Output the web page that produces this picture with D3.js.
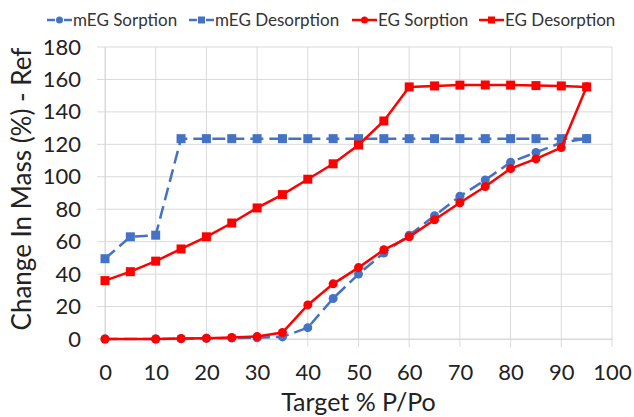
<!DOCTYPE html>
<html>
<head>
<meta charset="utf-8">
<script src="https://cdn.jsdelivr.net/npm/d3@7"></script>
<style>
  body { margin: 0; background: #fff; }
  text { font-family: Lato, "Open Sans", sans-serif; fill: #222; }
</style>
</head>
<body>
<svg id="chart" width="634" height="417"></svg>
<script>
// data
let pressure = [0, 5, 10, 15, 20, 25, 30, 35, 40, 45, 50, 55, 60, 65, 70, 75, 80, 85, 90, 95];
let megSorptionX = [0, 10, 15, 20, 25, 30, 35, 40, 45, 50, 55, 60, 65, 70, 75, 80, 85, 90, 95];
let megSorption = [0, 0, 0.2, 0.4, 0.6, 0.8, 1.3, 7, 25, 40, 53, 64, 76, 88, 98, 109, 115, 121, 123.5];
let megDesorption = [49.5, 63, 64, 123.5, 123.5, 123.5, 123.5, 123.5, 123.5, 123.5, 123.5, 123.5, 123.5, 123.5, 123.5, 123.5, 123.5, 123.5, 123.5, 123.5];
let egSorptionX = [0, 10, 15, 20, 25, 30, 35, 40, 45, 50, 55, 60, 65, 70, 75, 80, 85, 90, 95];
let egSorption = [0, 0, 0.3, 0.5, 1, 1.5, 4, 21, 34, 44, 55, 63, 73.5, 84, 94, 105, 111, 118, 155.5];
let egDesorption = [36, 41.5, 48, 55.5, 63, 71.5, 80.8, 89, 98.5, 108, 119.6, 134.4, 155.4, 156, 156.5, 156.6, 156.5, 156.2, 156, 155.4];
let xTicks = [0, 10, 20, 30, 40, 50, 60, 70, 80, 90, 100];
let yTicks = [0, 20, 40, 60, 80, 100, 120, 140, 160, 180];

let series = [
  {name: "mEG Sorption", xs: megSorptionX, ys: megSorption, color: "#4472C4", dash: "13,6", marker: "circle"},
  {name: "mEG Desorption", xs: pressure, ys: megDesorption, color: "#4472C4", dash: "13,6", marker: "square"},
  {name: "EG Sorption", xs: egSorptionX, ys: egSorption, color: "#FF0000", dash: null, marker: "circle"},
  {name: "EG Desorption", xs: pressure, ys: egDesorption, color: "#FF0000", dash: null, marker: "square"}
];

let svg = d3.select("#chart"),
    margin = {top: 47, right: 22, bottom: 78, left: 105},
    width = svg.attr("width") - margin.left - margin.right,
    height = svg.attr("height") - margin.top - margin.bottom,
    g = svg.append("g").attr("transform", "translate(" + margin.left + "," + margin.top + ")");

let x = d3.scaleLinear().domain([0, 100]).range([0, width]),
    y = d3.scaleLinear().domain([0, 180]).range([height, 0]);

// gridlines (they poke out a little past the plot, like the original)
g.append("g").selectAll("line").data(yTicks).enter().append("line")
    .attr("x1", -8).attr("x2", width)
    .attr("y1", d => y(d)).attr("y2", d => y(d))
    .style("stroke", "#d9d9d9").style("stroke-width", 1);
g.append("g").selectAll("line").data(xTicks).enter().append("line")
    .attr("x1", d => x(d)).attr("x2", d => x(d))
    .attr("y1", 0).attr("y2", height + 8)
    .style("stroke", "#d9d9d9").style("stroke-width", 1);

// axes
let xAxis = g.append("g")
    .attr("transform", "translate(0," + height + ")")
    .call(d3.axisBottom(x).tickValues(xTicks).tickSize(0).tickPadding(25));
let yAxis = g.append("g")
    .call(d3.axisLeft(y).tickValues(yTicks).tickSize(0).tickPadding(24));
[xAxis, yAxis].forEach(a => {
  a.select(".domain").style("stroke", "#d9d9d9");
  a.selectAll("text").style("font-size", "22px").style("font-family", "Lato, 'Open Sans', sans-serif").style("fill", "#222");
});

// lines and markers
let line = d3.line().x(d => x(d[0])).y(d => y(d[1]));
series.forEach(s => {
  let pts = s.xs.map((v, i) => [v, s.ys[i]]);
  g.append("path")
      .datum(pts)
      .attr("d", line)
      .style("fill", "none")
      .style("stroke", s.color)
      .style("stroke-width", 2.5)
      .style("stroke-dasharray", s.dash);
  if (s.marker === "circle") {
    g.append("g").selectAll("circle").data(pts).enter().append("circle")
        .attr("cx", d => x(d[0])).attr("cy", d => y(d[1])).attr("r", 4.5)
        .style("fill", s.color);
  } else {
    g.append("g").selectAll("rect").data(pts).enter().append("rect")
        .attr("x", d => x(d[0]) - 4.5).attr("y", d => y(d[1]) - 4.5)
        .attr("width", 9).attr("height", 9)
        .style("fill", s.color);
  }
});

// axis titles
svg.append("text")
    .attr("x", margin.left + width / 2)
    .attr("y", 411)
    .attr("text-anchor", "middle")
    .style("font-size", "25px")
    .text("Target % P/Po");
svg.append("text")
    .attr("transform", "translate(31," + (margin.top + height / 2 - 4) + ") rotate(-90)")
    .attr("text-anchor", "middle")
    .style("font-size", "26px")
    .text("Change In Mass (%) - Ref");

// legend
let legendX = [47, 189, 352, 479];
let legend = svg.append("g").attr("class", "legend");
series.forEach((s, i) => {
  let lg = legend.append("g").attr("transform", "translate(" + legendX[i] + ",20)");
  if (s.dash) {
    lg.append("line").attr("x1", 0).attr("x2", 8).attr("y1", 0).attr("y2", 0)
        .style("stroke", s.color).style("stroke-width", 2.5);
    lg.append("line").attr("x1", 17).attr("x2", 25).attr("y1", 0).attr("y2", 0)
        .style("stroke", s.color).style("stroke-width", 2.5);
  } else {
    lg.append("line").attr("x1", 0).attr("x2", 25).attr("y1", 0).attr("y2", 0)
        .style("stroke", s.color).style("stroke-width", 2.5);
  }
  if (s.marker === "circle") {
    lg.append("circle").attr("cx", 12.5).attr("cy", 0).attr("r", 3.5).style("fill", s.color);
  } else {
    lg.append("rect").attr("x", 9).attr("y", -3.5).attr("width", 7).attr("height", 7).style("fill", s.color);
  }
  lg.append("text").attr("x", 26).attr("y", 6)
      .style("font-size", "17px")
      .style("fill", "#333")
      .text(s.name);
});
</script>
</body>
</html>
